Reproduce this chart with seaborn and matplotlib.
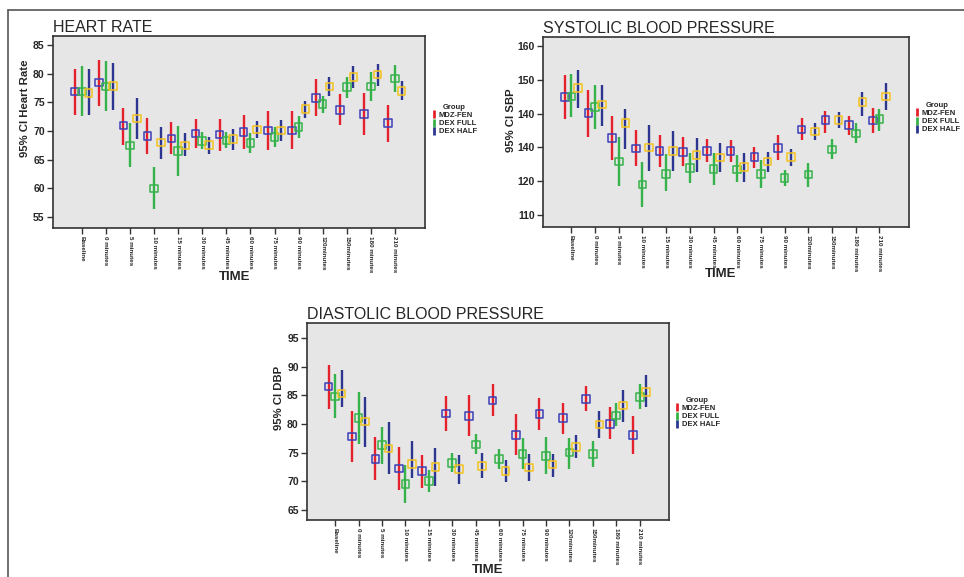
# Heart rate / SBP / DBP 95% CI charts by group over time

import matplotlib
matplotlib.use("Agg")
import matplotlib.pyplot as plt
from matplotlib.lines import Line2D
import seaborn as sns
import pandas as pd


# =========================
# DATA
# =========================

time_labels = ["Baseline", "0 minutes", "5 minutes", "10 minutes", "15 minutes",
               "30 minutes", "45 minutes", "60 minutes", "75 minutes", "90 minutes",
               "120minutes", "150minutes", "180 minutes", "210 minutes"]

groups = ["MDZ-FEN", "DEX FULL", "DEX HALF"]

# heart rate
hr_mdz_mean = [76.9, 78.5, 71.0, 69.1, 68.75, 69.6, 69.4, 69.9, 70.1, 70.1, 75.8, 73.7, 73.0, 71.4]
hr_mdz_hi = [80.9, 82.4, 74.1, 72.3, 71.6, 72.1, 72.2, 72.9, 73.6, 73.6, 79.1, 76.4, 76.6, 74.6]
hr_mdz_lo = [72.75, 74.4, 67.5, 66.0, 66.0, 67.1, 66.6, 66.8, 66.7, 66.8, 72.6, 71.0, 69.4, 68.1]
hr_full_mean = [76.9, 77.8, 67.5, 60.0, 66.5, 68.3, 68.4, 67.9, 69.0, 70.7, 74.7, 77.7, 77.8, 79.2]
hr_full_hi = [81.3, 82.2, 71.5, 63.8, 70.9, 69.9, 69.8, 69.6, 70.8, 72.6, 76.2, 79.5, 80.3, 81.6]
hr_full_lo = [72.6, 73.6, 63.7, 56.4, 62.2, 66.8, 67.0, 66.1, 67.3, 68.8, 73.1, 75.8, 75.3, 76.8]
hr_half_mean = [76.7, 77.9, 72.2, 68.0, 67.5, 67.6, 68.6, 70.3, 70.1, 73.9, 77.8, 79.4, 79.9, 77.0]
hr_half_hi = [80.8, 81.9, 75.8, 70.8, 69.7, 69.0, 70.3, 71.8, 71.9, 75.3, 79.4, 81.3, 81.7, 78.7]
hr_half_lo = [72.8, 73.7, 68.6, 65.2, 65.6, 66.0, 66.7, 68.8, 68.3, 72.3, 76.2, 77.5, 77.9, 75.4]

# systolic blood pressure
sbp_mdz_mean = [144.9, 140.2, 132.9, 129.7, 129.0, 128.75, 129.0, 129.0, 127.1, 129.9, 135.3, 138.1, 136.6, 138.0]
sbp_mdz_hi = [151.5, 147.1, 139.3, 135.2, 133.8, 133.1, 132.4, 132.2, 130.2, 133.7, 138.7, 140.9, 139.4, 141.6]
sbp_mdz_lo = [138.4, 133.2, 126.3, 124.6, 124.3, 124.4, 125.6, 125.6, 123.8, 126.3, 132.1, 134.4, 133.7, 134.2]
sbp_full_mean = [145.1, 142.0, 125.9, 119.0, 122.1, 123.9, 123.7, 123.5, 122.2, 121.0, 122.0, 129.4, 134.2, 138.4]
sbp_full_hi = [151.7, 148.5, 133.2, 125.7, 128.1, 128.4, 128.3, 127.7, 126.3, 123.3, 125.4, 132.4, 137.3, 141.4]
sbp_full_lo = [139.0, 135.6, 118.6, 112.4, 117.0, 119.4, 119.0, 119.7, 118.0, 118.6, 118.4, 126.5, 131.2, 135.0]
sbp_half_mean = [147.6, 142.8, 137.2, 130.0, 129.0, 127.8, 127.0, 124.3, 125.8, 127.2, 134.8, 138.2, 143.5, 145.1]
sbp_half_hi = [152.9, 148.7, 141.4, 136.8, 134.9, 132.9, 131.4, 128.3, 128.7, 129.6, 137.2, 140.5, 146.4, 149.2]
sbp_half_lo = [141.8, 136.4, 129.5, 122.9, 123.1, 122.7, 122.8, 119.8, 122.8, 124.6, 132.3, 135.8, 139.3, 141.2]

# diastolic blood pressure
dbp_mdz_mean = [86.5, 77.8, 73.9, 72.2, 71.8, 81.8, 81.4, 84.1, 78.1, 81.7, 81.0, 84.4, 80.0, 78.1]
dbp_mdz_hi = [90.2, 82.2, 77.8, 76.0, 74.6, 84.8, 85.0, 86.9, 81.8, 84.5, 83.6, 86.6, 82.9, 81.4]
dbp_mdz_lo = [82.6, 73.3, 70.2, 68.5, 68.9, 78.8, 77.9, 81.4, 74.5, 78.9, 78.3, 82.3, 77.4, 74.7]
dbp_full_mean = [84.8, 81.0, 76.3, 69.5, 70.0, 73.2, 76.4, 73.9, 74.8, 74.4, 75.0, 74.8, 81.5, 84.7]
dbp_full_hi = [88.7, 85.5, 79.4, 72.8, 72.0, 75.0, 78.2, 75.7, 77.5, 77.8, 77.6, 77.0, 83.6, 86.9]
dbp_full_lo = [81.1, 76.5, 73.1, 66.2, 68.1, 71.7, 74.7, 72.2, 72.1, 71.2, 72.2, 72.5, 79.6, 82.6]
dbp_half_mean = [85.3, 80.4, 75.7, 73.0, 72.5, 72.1, 72.7, 71.8, 72.4, 72.9, 76.0, 79.9, 83.2, 85.6]
dbp_half_hi = [89.4, 84.7, 80.3, 77.1, 75.8, 74.6, 75.0, 73.7, 74.7, 74.7, 78.0, 82.2, 86.0, 88.5]
dbp_half_lo = [83.0, 76.0, 71.3, 70.5, 69.2, 69.6, 70.5, 69.9, 70.1, 70.8, 74.0, 77.6, 80.4, 82.9]

hr_ticks = [55, 60, 65, 70, 75, 80, 85]
sbp_ticks = [110, 120, 130, 140, 150, 160]
sbp_tick_labels = ["110", "120", "140", "140", "150", "160"]
dbp_ticks = [65, 70, 75, 80, 85, 90, 95]


# =========================
# STYLE
# =========================

sns.set_style("white")
plt.rcParams["font.family"] = ["Liberation Sans", "DejaVu Sans"]

bar_colors = ["#e5212b", "#35b34a", "#2c3590"]
marker_colors = ["#3a3fb8", "#35b34a", "#f4c21c"]
offsets = [-0.28, 0.0, 0.28]
panel_bg = "#e6e6e6"
spine_color = "#333333"


def long_table(means, los, his):
    rows = []
    for g, name in enumerate(groups):
        for i, label in enumerate(time_labels):
            rows.append({"group": name, "time": i, "x": i + offsets[g],
                         "mean": means[g][i], "lo": los[g][i], "hi": his[g][i]})
    return pd.DataFrame(rows)


def draw_panel(ax, df, title, ylabel, yticks, ylim, ylabel_xy, xlabel_xy,
               ytick_labels=None):
    ax.set_facecolor(panel_bg)

    for g, name in enumerate(groups):
        sub = df[df["group"] == name]
        ax.vlines(sub["x"], sub["lo"], sub["hi"], color=bar_colors[g],
                  linewidth=1.7, zorder=2)
        sns.scatterplot(x=sub["x"], y=sub["mean"], marker="s", s=30,
                        facecolor="none", edgecolor=marker_colors[g],
                        linewidth=1.1, ax=ax, zorder=3, legend=False)

    ax.set_xlim(-1.2, 14.25)
    ax.set_ylim(*ylim)
    ax.set_yticks(yticks)
    if ytick_labels is not None:
        ax.set_yticklabels(ytick_labels)
    ax.set_xticks(range(len(time_labels)))
    ax.set_xticklabels(time_labels, rotation=270, fontsize=4.5, fontweight="bold")
    for lab in ax.get_yticklabels():
        lab.set_fontweight("bold")
        lab.set_fontsize(7.5)

    ax.tick_params(axis="both", direction="out", length=4, width=1,
                   color=spine_color, left=True, bottom=True, pad=2)
    for sp in ax.spines.values():
        sp.set_color(spine_color)
        sp.set_linewidth(1.2)

    ax.set_title(title, loc="left", fontsize=11.5, pad=3)
    ax.set_ylabel(ylabel, fontsize=8.2, fontweight="bold")
    ax.yaxis.set_label_coords(*ylabel_xy)
    ax.set_xlabel("TIME", fontsize=9.5, fontweight="bold")
    ax.xaxis.set_label_coords(*xlabel_xy)


def add_legend(fig, x, y):
    handles = [Line2D([], [], color=c, marker="|", linestyle="None",
                      markersize=6, markeredgewidth=2) for c in bar_colors]
    fig.legend(handles, groups, title="Group", loc="upper left",
               bbox_to_anchor=(x, y), frameon=False,
               prop={"weight": "bold", "size": 5.5},
               title_fontproperties={"weight": "bold", "size": 5.5},
               handlelength=0.4, handletextpad=0.5, labelspacing=0.1,
               borderpad=0, borderaxespad=0)


# =========================
# FIGURE
# =========================

W, H = 964, 577
fig = plt.figure(figsize=(9.64, 5.77), dpi=100)


def box(l, t, r, b):
    return [l / W, 1 - b / H, (r - l) / W, (b - t) / H]


ax_hr = fig.add_axes(box(53, 36, 425, 228))
ax_sbp = fig.add_axes(box(543, 37, 909, 227))
ax_dbp = fig.add_axes(box(307, 323, 669, 520))

hr_df = long_table([hr_mdz_mean, hr_full_mean, hr_half_mean],
                   [hr_mdz_lo, hr_full_lo, hr_half_lo],
                   [hr_mdz_hi, hr_full_hi, hr_half_hi])
sbp_df = long_table([sbp_mdz_mean, sbp_full_mean, sbp_half_mean],
                    [sbp_mdz_lo, sbp_full_lo, sbp_half_lo],
                    [sbp_mdz_hi, sbp_full_hi, sbp_half_hi])
dbp_df = long_table([dbp_mdz_mean, dbp_full_mean, dbp_half_mean],
                    [dbp_mdz_lo, dbp_full_lo, dbp_half_lo],
                    [dbp_mdz_hi, dbp_full_hi, dbp_half_hi])

draw_panel(ax_hr, hr_df, "HEART RATE", "95% CI Heart Rate", hr_ticks,
           (53.1, 86.6), (-0.062, 0.625), (0.487, -0.222))
draw_panel(ax_sbp, sbp_df, "SYSTOLIC BLOOD PRESSURE", "95% CI SBP", sbp_ticks,
           (106.4, 162.8), (-0.074, 0.56), (0.486, -0.218), sbp_tick_labels)
draw_panel(ax_dbp, dbp_df, "DIASTOLIC BLOOD PRESSURE", "95% CI DBP", dbp_ticks,
           (63.25, 97.6), (-0.064, 0.62), (0.5, -0.222))

add_legend(fig, 432 / W, 1 - 104 / H)
add_legend(fig, 915 / W, 1 - 102 / H)
add_legend(fig, 675 / W, 1 - 397 / H)

# page frame (top and left edge)
fig.add_artist(Line2D([8 / W, 1], [1 - 10 / H, 1 - 10 / H], color="#555555",
                      linewidth=1.2, transform=fig.transFigure))
fig.add_artist(Line2D([8 / W, 8 / W], [0, 1 - 10 / H], color="#555555",
                      linewidth=1.2, transform=fig.transFigure))

fig.savefig("out.png", dpi=100, facecolor="white")
